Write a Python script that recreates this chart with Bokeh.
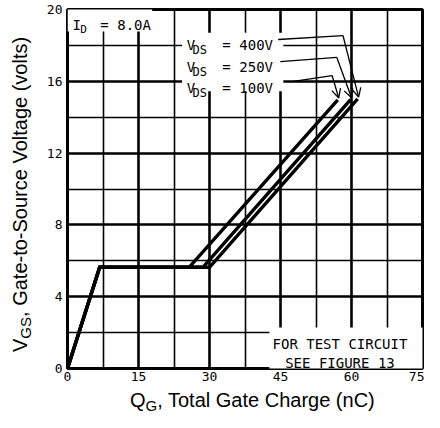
from bokeh.plotting import figure
from bokeh.models import Range1d, FixedTicker, Label, Arrow, OpenHead, BoxAnnotation, Div
from bokeh.layouts import row, column
from bokeh.embed import file_html
from bokeh.resources import INLINE

# ---------------- data ----------------
x_ticks = [0, 15, 30, 45, 60, 75]
x_minor = [7.5, 22.5, 37.5, 52.5, 67.5]
y_ticks = [0, 4, 8, 12, 16, 20]
y_minor = [2, 6, 10, 14, 18]

vds_labels = ["400V", "250V", "100V"]

qg_400 = [0.0, 6.8, 30.0, 61.3]
vgs_400 = [0.0, 5.64, 5.64, 15.02]
qg_250 = [0.0, 6.8, 28.6, 59.8]
vgs_250 = [0.0, 5.64, 5.64, 14.98]
qg_100 = [0.0, 6.8, 25.7, 57.1]
vgs_100 = [0.0, 5.64, 5.64, 14.97]

x_title = ("Q", "G", ", Total Gate Charge (nC)")
y_title = ("V", "GS", ", Gate-to-Source Voltage (volts)")

# ---------------- layout sizes ----------------
W, H = 424, 412
YDIV_W = 36
XDIV_H = 24
PW, PH = W - YDIV_W, H - XDIV_H

p = figure(width=PW, height=PH, x_range=Range1d(0, 75), y_range=Range1d(0, 20),
           output_backend="svg", toolbar_location=None,
           min_border_left=67 - YDIV_W, min_border_right=2, min_border_top=9, min_border_bottom=PH - 368,
           background_fill_color="white", border_fill_color="white")
p.outline_line_color = "black"
p.outline_line_width = 3

xt = FixedTicker(ticks=x_ticks, minor_ticks=x_minor)
yt = FixedTicker(ticks=y_ticks, minor_ticks=y_minor)
p.xaxis.ticker = xt
p.yaxis.ticker = yt
p.xgrid.ticker = xt
p.ygrid.ticker = yt
for g in (p.xgrid, p.ygrid):
    g.grid_line_color = "black"
    g.grid_line_width = 2.6
    g.minor_grid_line_color = "black"
    g.minor_grid_line_width = 1.6

for ax in (p.xaxis, p.yaxis):
    ax.axis_line_color = None
    ax.major_tick_line_color = None
    ax.minor_tick_line_color = None
    ax.major_tick_out = 0
    ax.minor_tick_out = 0
    ax.major_tick_in = 0
    ax.minor_tick_in = 0
    ax.major_label_text_font = "DejaVu Sans Mono"
    ax.major_label_text_font_size = "13px"
    ax.major_label_text_color = "black"
p.xaxis.major_label_standoff = 3
p.yaxis.major_label_standoff = 5

# ---------------- curves ----------------
for qx, vy in ((qg_100, vgs_100), (qg_250, vgs_250), (qg_400, vgs_400)):
    p.line(qx, vy, line_color="black", line_width=3.4, line_join="miter")

# ---------------- white label patches ----------------
for l, r, b, t in ((0, 17.9, 18.77, 20.5), (24.2, 45.6, 15.45, 18.7), (42.65, 75.5, -0.5, 2.28)):
    p.add_layout(BoxAnnotation(left=l, right=r, bottom=b, top=t, fill_color="white",
                               fill_alpha=1.0, line_color=None))

MONO = "DejaVu Sans Mono"

def lab(x, y, text, size, align="left"):
    p.add_layout(Label(x=x, y=y, text=text, text_font=MONO, text_font_size=size,
                       text_color="black", text_align=align, text_baseline="alphabetic"))

# I_D = 8.0A
lab(1.05, 19.11, "I", "14px")
lab(2.7, 18.89, "D", "11px")
lab(6.9, 19.11, "=", "14px")
lab(10.5, 19.11, "8.0A", "14px")

# V_DS labels
row_y = [18.0, 16.8, 15.62]
for name, yy in zip(vds_labels, row_y):
    lab(25.2, yy, "V", "14px")
    lab(26.4, yy - 0.28, "DS", "12px")
    lab(32.7, yy, "=", "14px")
    lab(36.3, yy, name, "14px")

# leaders + arrows
leader_pts = [((44.5, 18.33), (58.2, 18.55)),
              ((44.96, 17.1), (56.9, 17.33)),
              ((47.7, 15.99), (55.9, 16.32))]
ends = [(qg_400[-1], vgs_400[-1]), (qg_250[-1], vgs_250[-1]), (qg_100[-1], vgs_100[-1])]
for (s, b), e in zip(leader_pts, ends):
    p.add_layout(Arrow(end=None, x_start=s[0], y_start=s[1], x_end=b[0], y_end=b[1],
                       line_color="black", line_width=1.3))
    p.add_layout(Arrow(end=OpenHead(size=9, line_width=1.3, line_color="black"),
                       x_start=b[0], y_start=b[1], x_end=e[0] + 0.2, y_end=e[1] + 0.1,
                       line_color="black", line_width=1.3))

# test circuit note
lab(57.56, 1.39, "FOR TEST CIRCUIT", "14px", align="center")
lab(57.56, 0.33, "SEE FIGURE 13", "14px", align="center")

# ---------------- axis titles as HTML (with real subscripts) ----------------
FONT_CSS = "font-family:'Liberation Sans',Arial,sans-serif;font-size:20px;line-height:23px;color:black;white-space:nowrap;"
SUB_CSS = "font-size:15px;vertical-align:-4px;line-height:0;"

def title_html(parts):
    return f"{parts[0]}<span style=\"{SUB_CSS}\">{parts[1]}</span>{parts[2]}"

ydiv = Div(width=YDIV_W, height=PH, margin=0,
           text=(f"<div style=\"position:relative;width:{YDIV_W}px;height:{PH}px;overflow:visible;\">"
                 f"<div style=\"position:absolute;left:9px;top:352px;transform:rotate(-90deg);"
                 f"transform-origin:left top;{FONT_CSS}\">{title_html(y_title)}</div></div>"))
xdiv = Div(width=W, height=XDIV_H, margin=0,
           text=(f"<div style=\"position:relative;width:{W}px;height:{XDIV_H}px;overflow:visible;\">"
                 f"<div style=\"position:absolute;left:130px;top:1px;{FONT_CSS}\">{title_html(x_title)}</div></div>"))

layout = column(row(ydiv, p, spacing=0), xdiv, spacing=0)

open("out.html", "w").write(file_html(layout, INLINE))
